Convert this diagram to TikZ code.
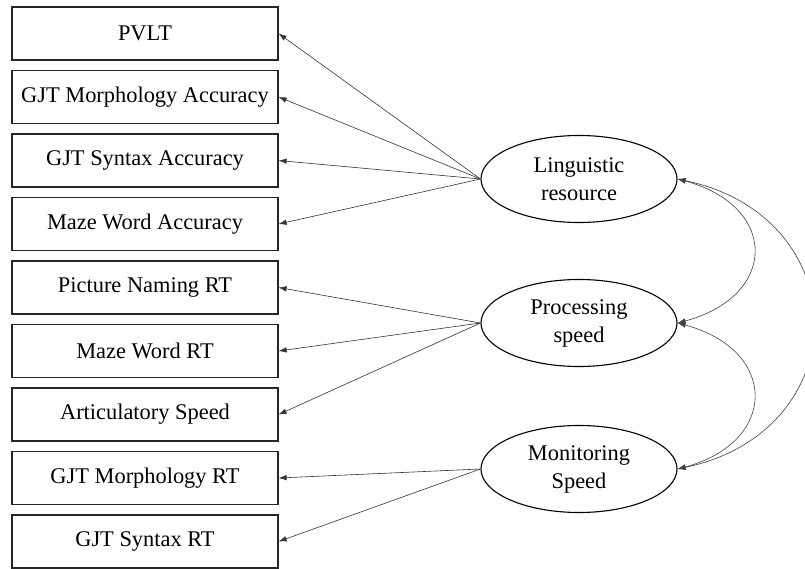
\documentclass[tikz,border=0pt]{standalone}
\usepackage{fontspec}
\setmainfont{Liberation Serif}
\usetikzlibrary{arrows.meta,shapes.geometric,calc}
\begin{document}
\begin{tikzpicture}[x=1pt,y=-1pt,
  font=\fontsize{22.4}{28}\selectfont,
  indicator/.style={draw=black!85,line width=1.2pt,minimum width=266pt,minimum height=53pt,inner sep=0pt},
  latent/.style={ellipse,draw=black,line width=1.1pt,minimum width=196pt,minimum height=87pt,inner sep=0pt,align=center},
  load/.style={draw=black!80,line width=0.6pt,-{Latex[length=8pt,width=5.5pt]}},
  covar/.style={draw=black!75,line width=0.6pt,{Latex[length=8pt,width=5.5pt]}-{Latex[length=8pt,width=5.5pt]}}]
\useasboundingbox (0,0) rectangle (805,569);

% observed measures
\node[indicator] (b1) at (145,33.5)  {PVLT};
\node[indicator] (b2) at (145,97)    {GJT Morphology Accuracy};
\node[indicator] (b3) at (145,160.5) {GJT Syntax Accuracy};
\node[indicator] (b4) at (145,224)   {Maze Word Accuracy};
\node[indicator] (b5) at (145,287.5) {Picture Naming RT};
\node[indicator] (b6) at (145,351)   {Maze Word RT};
\node[indicator] (b7) at (145,414.5) {Articulatory Speed};
\node[indicator] (b8) at (145,478)   {GJT Morphology RT};
\node[indicator] (b9) at (145,541.5) {GJT Syntax RT};

% latent factors
\node[latent] (L) at (579,179) {Linguistic\\resource};
\node[latent] (P) at (579,323) {Processing\\speed};
\node[latent] (M) at (579,469) {Monitoring\\Speed};

% factor loadings
\foreach \b in {b1,b2,b3,b4} \draw[load] (L.west) -- (\b.east);
\foreach \b in {b5,b6,b7} \draw[load] (P.west) -- (\b.east);
\foreach \b in {b8,b9} \draw[load] (M.west) -- (\b.east);

% factor covariances
\draw[covar] (L.east) .. controls ($(L.east)+(101,27)$) and ($(P.east)+(101,-27)$) .. (P.east);
\draw[covar] (P.east) .. controls ($(P.east)+(101,27)$) and ($(M.east)+(101,-27)$) .. (M.east);
\draw[covar] (L.east) .. controls ($(L.east)+(180,38)$) and ($(M.east)+(180,-38)$) .. (M.east);
\end{tikzpicture}
\end{document}
